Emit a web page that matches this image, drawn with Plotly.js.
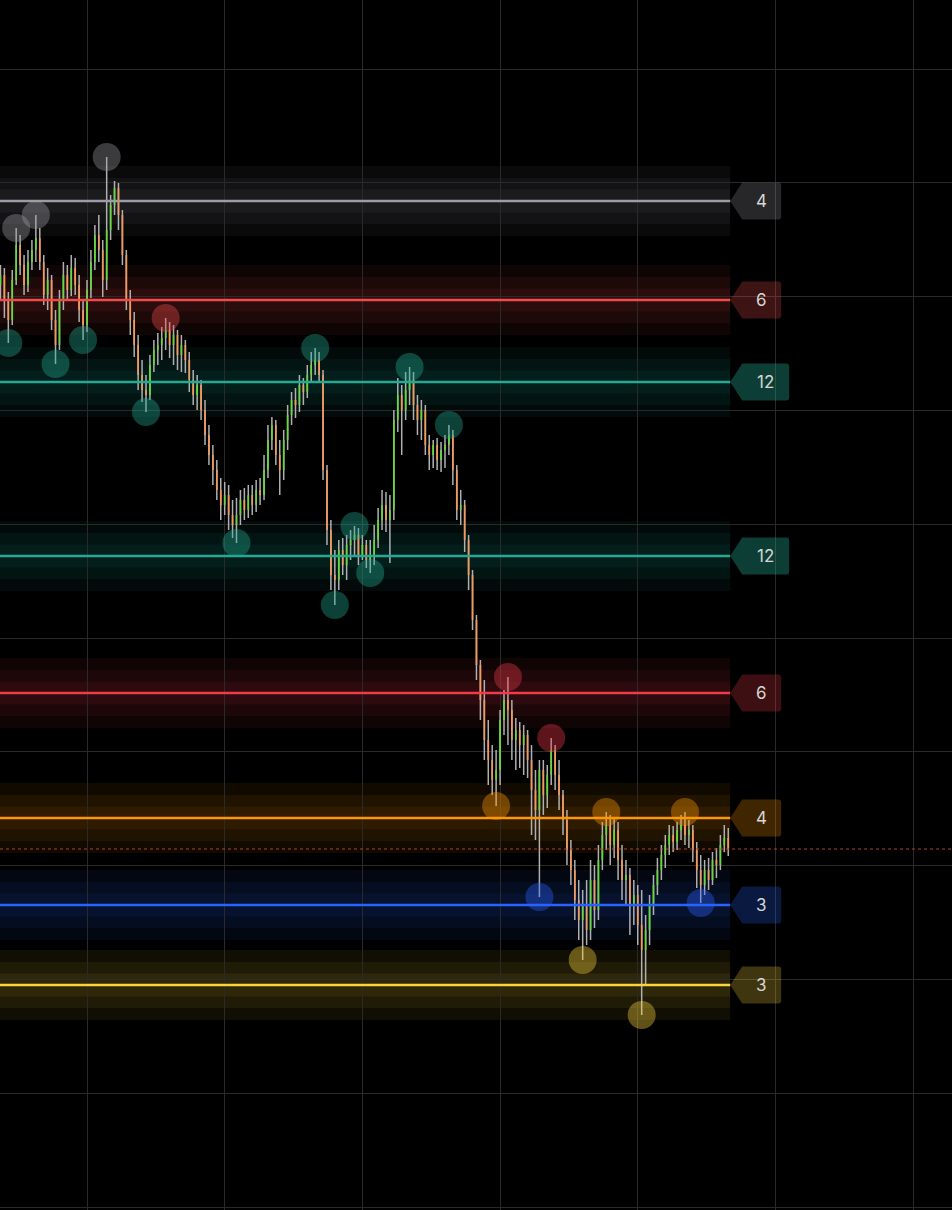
<!DOCTYPE html>
<html>
<head>
<meta charset="utf-8">
<script src="https://cdn.plot.ly/plotly-3.0.1.min.js"></script>
<style>
html,body{margin:0;padding:0;background:#000;}
#chart{width:952px;height:1210px;}
</style>
</head>
<body>
<div id="chart"></div>
<script>
// ---- candle data (one candle per bar index) ----
const candleOpen = [915,925,900,880,920,955,935,915,938,950, 962,938,905,920,880,855,900,925,910,932,
 915,890,875,910,938,965,950,920,970,995, 1012,985,945,900,880,855,825,810,805,835,
 850,855,862,870,855,865,845,855,840,820, 805,815,790,765,745,730,710,695,705,685,
 675,685,700,690,705,695,710,705,730,760, 775,745,730,760,785,800,795,815,808,825,
 835,840,825,730,670,625,620,650,635,655, 660,665,645,655,640,645,660,680,695,680,
 690,780,805,790,810,820,795,780,790,755, 745,755,740,750,755,765,730,690,695,660,
 625,580,535,500,460,440,420,430,480,500, 490,460,470,455,465,440,410,390,430,405,
 425,450,425,405,380,350,330,300,280,295, 270,320,290,340,365,375,355,370,340,320,
 325,295,305,275,250,270,295,315,330,345, 355,365,358,370,375,365,370,350,330,315,
 330,320,340,335,355,362];
const candleHigh = [935,932,908,930,972,965,945,950,960,985, 972,945,932,925,890,910,938,935,945,942,
 925,900,920,950,975,985,960,1043,1005,1019, 1017,990,950,910,888,865,840,825,845,860,
 867,873,882,878,875,870,865,860,848,830, 825,820,800,775,755,740,722,718,715,700,
 702,710,712,715,715,720,722,745,775,783, 780,760,770,795,808,812,825,822,835,848,
 852,848,830,735,680,650,660,662,665,670, 674,672,665,660,660,675,692,710,708,705,
 790,822,815,828,833,828,805,800,795,765, 760,762,758,765,775,770,735,710,700,665,
 630,585,540,520,480,455,450,490,510,523, 500,482,478,475,470,455,430,440,440,435,
 462,455,440,410,390,360,340,320,310,320, 340,335,355,378,388,385,382,378,355,340,
 332,320,315,310,285,305,325,342,355,365, 375,374,378,385,388,380,375,358,345,340,
 342,348,352,365,375,372];
const candleLow = [900,882,857,875,915,925,905,908,930,938, 930,895,890,870,836,850,890,900,904,905,
 878,860,868,902,930,938,903,910,960,985, 970,935,890,865,843,810,798,788,800,828,
 835,840,850,842,835,830,828,827,808,795, 790,780,755,735,715,700,680,685,670,662,
 657,675,680,682,685,688,695,700,722,750, 735,705,720,750,775,782,788,795,802,818,
 825,818,720,655,610,595,610,625,620,640, 645,635,640,632,627,635,652,670,668,637,
 680,768,745,780,795,780,765,760,745,730, 732,730,728,732,745,715,680,675,648,610,
 570,520,480,440,415,405,394,415,465,455, 440,430,432,425,422,365,360,303,385,392,
 415,410,390,365,335,315,280,260,240,255, 260,272,280,330,350,335,342,320,300,295,
 265,275,255,185,215,255,285,305,320,332, 345,348,350,360,355,352,338,312,297,305,
 310,315,322,330,348,344];
const candleClose = [925,900,880,920,955,935,915,938,950,962, 938,905,920,880,855,900,925,910,932,915,
 890,875,910,938,965,950,920,970,995,1012, 985,945,900,880,855,825,810,805,835,850,
 855,862,870,855,865,845,855,840,820,805, 815,790,765,745,730,710,695,705,685,675,
 685,700,690,705,695,710,705,730,760,775, 745,730,760,785,800,795,815,808,825,835,
 840,825,730,670,625,620,650,635,655,660, 665,645,655,640,645,660,680,695,680,690,
 780,805,790,810,820,795,780,790,755,745, 755,740,750,755,765,730,690,695,660,625,
 580,535,500,460,440,420,430,480,500,490, 460,470,455,465,440,410,390,430,405,425,
 450,425,405,380,350,330,300,280,295,270, 320,290,340,365,375,355,370,340,320,325,
 295,305,275,250,270,295,315,330,345,355, 365,358,370,375,365,370,350,330,315,330,
 320,340,335,355,362,351];

// ---- horizontal levels ----
const levelPrice = [999, 900, 818, 644, 507, 382, 295, 215];
const levelCount = ["4", "6", "12", "12", "6", "4", "3", "3"];
const levelColor = ["#9c9ca4", "#f24a4a", "#22ab94", "#22ab94", "#f23a48", "#ff9800", "#2962ff", "#fbd43c"];
const currentPrice = 351;

// ---- pivot markers (bar index, high/low side, level index) ----
const pivotIndex = [4, 9, 27, 42, 2, 14, 21, 37, 80, 104, 114, 60, 85, 94, 90, 129, 140, 126, 154, 174, 137, 178, 148, 163];
const pivotSide  = ["H","H","H","H","L","L","L","L","H","H","H","L","L","L","H","H","H","L","H","H","L","L","L","L"];
const pivotLevel = [0, 0, 0, 1, 2, 2, 2, 2, 2, 2, 2, 3, 3, 3, 3, 4, 4, 5, 5, 5, 6, 6, 7, 7];

function rgba(hex, a) {
  const n = parseInt(hex.slice(1), 16);
  return `rgba(${(n >> 16) & 255},${(n >> 8) & 255},${n & 255},${a})`;
}

const N = candleClose.length;
const xs = candleClose.map((_, i) => i);
const bodyHigh = candleOpen.map((o, i) => Math.max(o, candleClose[i]));
const bodyLow = candleOpen.map((o, i) => Math.min(o, candleClose[i]));
const lastX = N - 0.5;

const traces = [
  { type: "ohlc", x: xs, open: candleOpen, high: candleHigh, low: candleLow, close: candleClose,
    tickwidth: 0, increasing: { line: { color: "#b0b0b0", width: 1.5 } },
    decreasing: { line: { color: "#b0b0b0", width: 1.5 } }, hoverinfo: "skip", showlegend: false },
  { type: "ohlc", x: xs, open: candleOpen, high: bodyHigh, low: bodyLow, close: candleClose,
    tickwidth: 0, increasing: { line: { color: "#62dc3a", width: 1.7 } },
    decreasing: { line: { color: "#f59a5c", width: 1.7 } }, hoverinfo: "skip", showlegend: false },
  { type: "scatter", mode: "markers",
    x: pivotIndex,
    y: pivotIndex.map((b, k) => pivotSide[k] === "H" ? candleHigh[b] : candleLow[b]),
    marker: { size: 28, color: pivotLevel.map(l => rgba(levelColor[l], 0.38)), line: { width: 0 } },
    hoverinfo: "skip", showlegend: false }
];

const shapes = [];
const annotations = [];
levelPrice.forEach((p, k) => {
  const c = levelColor[k];
  [35, 23, 11.5].forEach(h => {
    shapes.push({ type: "rect", layer: "below", xref: "x", yref: "y", x0: -2, x1: lastX, y0: p - h, y1: p + h,
      fillcolor: rgba(c, 0.065), line: { width: 0 } });
  });
  shapes.push({ type: "line", layer: "above", xref: "x", yref: "y", x0: -2, x1: lastX, y0: p, y1: p,
    line: { color: c, width: 2.5 } });
  const W = levelCount[k].length > 1 ? 47 : 39;
  const R = 3, L = 12, H = 18.5;
  const path = `M0,0 L${L},${H} L${L + W - R},${H} Q${L + W},${H} ${L + W},${H - R} L${L + W},${-H + R} Q${L + W},${-H} ${L + W - R},${-H} L${L},${-H} Z`;
  shapes.push({ type: "path", layer: "above", xref: "x", yref: "y", xsizemode: "pixel", ysizemode: "pixel",
    xanchor: lastX, yanchor: p, path: path, fillcolor: rgba(c, c === "#22ab94" ? 0.36 : 0.25), line: { width: 0 } });
  annotations.push({ xref: "x", yref: "y", x: lastX, y: p, xshift: L + W / 2, text: levelCount[k], showarrow: false,
    xanchor: "center", yanchor: "middle", font: { family: "Inter, 'Noto Sans', sans-serif", size: 17, color: "#d6d6d6" } });
});
shapes.push({ type: "line", layer: "above", xref: "paper", yref: "y", x0: 0, x1: 1, y0: currentPrice, y1: currentPrice,
  line: { color: "rgba(200,70,50,0.9)", width: 1, dash: "dot" } });

const layout = {
  width: 952, height: 1210,
  margin: { l: 0, r: 0, t: 0, b: 0, pad: 0 },
  paper_bgcolor: "#000", plot_bgcolor: "#000",
  showlegend: false,
  xaxis: { range: [-0.114, 241.88], tick0: 22, dtick: 35, showgrid: true, gridcolor: "#2a2a2a", gridwidth: 1,
    zeroline: false, showticklabels: false, ticks: "", rangeslider: { visible: false }, fixedrange: true, showline: false },
  yaxis: { range: [-10, 1200], tick0: 1131, dtick: 113.8, showgrid: true, gridcolor: "#2a2a2a", gridwidth: 1,
    zeroline: false, showticklabels: false, ticks: "", fixedrange: true, showline: false },
  shapes: shapes,
  annotations: annotations
};

Plotly.newPlot("chart", traces, layout, { displayModeBar: false, staticPlot: true });
</script>
</body>
</html>
